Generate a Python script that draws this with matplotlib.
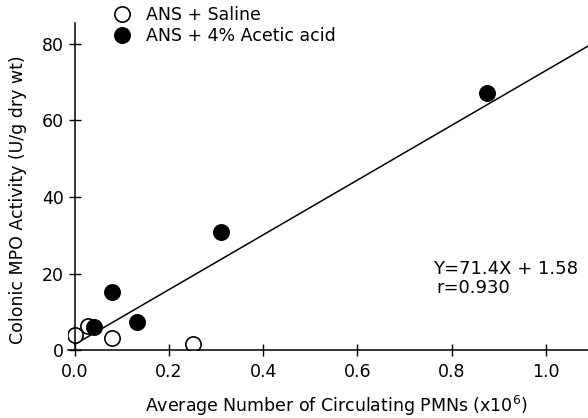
import numpy as np
import matplotlib
matplotlib.use("Agg")
import matplotlib.pyplot as plt
from matplotlib.lines import Line2D

# Data
saline_x = [0.0, 0.028, 0.079, 0.252]
saline_y = [4.0, 6.3, 3.3, 1.7]
acetic_x = [0.041, 0.078, 0.132, 0.310, 0.876]
acetic_y = [6.2, 15.3, 7.5, 31.0, 67.1]
fit_slope = 71.4
fit_intercept = 1.58
x_ticks = [0.0, 0.2, 0.4, 0.6, 0.8, 1.0]
y_ticks = [0, 20, 40, 60, 80]
labels = ["ANS + Saline", "ANS + 4% Acetic acid"]

plt.rcParams['font.family'] = ['DejaVu Sans']
fig = plt.figure(figsize=(5.88, 4.18), dpi=100)
ax = fig.add_axes([68/588, (418-350.4)/418, 1 - 68/588, 350.4/418])
ax.set_xlim(-0.0144, 1.0896)
ax.set_ylim(0, 91.4)

fx = np.array([0.0, 1.0896])
ax.plot(fx, fit_slope*fx + fit_intercept, color='black', lw=1.1, zorder=1)

ax.plot(saline_x, saline_y, 'o', ms=11, mfc='white', mec='black', mew=1.2, ls='none', zorder=2)
ax.plot(acetic_x, acetic_y, 'o', ms=11, mfc='black', mec='black', mew=1.2, ls='none', zorder=3)

for s in ['top', 'right']:
    ax.spines[s].set_visible(False)
ax.spines['left'].set_position(('data', 0))
ax.spines['left'].set_bounds(0, 85.5)
ax.spines['left'].set_linewidth(1.1)
ax.spines['bottom'].set_linewidth(1.1)

ax.set_xticks(x_ticks)
ax.set_xticklabels([f"{v:.1f}" for v in x_ticks])
ax.set_yticks(y_ticks)
ax.tick_params(direction='inout', length=8, width=1.0, labelsize=12.5)
ax.tick_params(axis='x', pad=5)
ax.tick_params(axis='y', pad=4)

fig.text(18/588, 1 - 200/418, "Colonic MPO Activity (U/g dry wt)", rotation=90,
         ha='center', va='center', fontsize=12.5)
fig.text(336/588, 1 - 406/418, r"Average Number of Circulating PMNs (x10$^{6}$)",
         ha='center', va='center', fontsize=12.5)

fig.text(433/588, 1 - 269/418, "Y=71.4X + 1.58", ha='left', va='center', fontsize=13)
fig.text(436/588, 1 - 288/418, "r=0.930", ha='left', va='center', fontsize=13)

handles = [Line2D([], [], marker='o', ls='none', ms=11, mfc='white', mec='black', mew=1.2),
           Line2D([], [], marker='o', ls='none', ms=11, mfc='black', mec='black', mew=1.2)]
fig.legend(handles, labels, loc='upper left', bbox_to_anchor=(113/588, 1 - 6/418),
           frameon=False, fontsize=12.5, handlelength=1.0, handletextpad=0.9,
           labelspacing=0.15, borderpad=0, borderaxespad=0)

fig.savefig("out.png", dpi=100)
